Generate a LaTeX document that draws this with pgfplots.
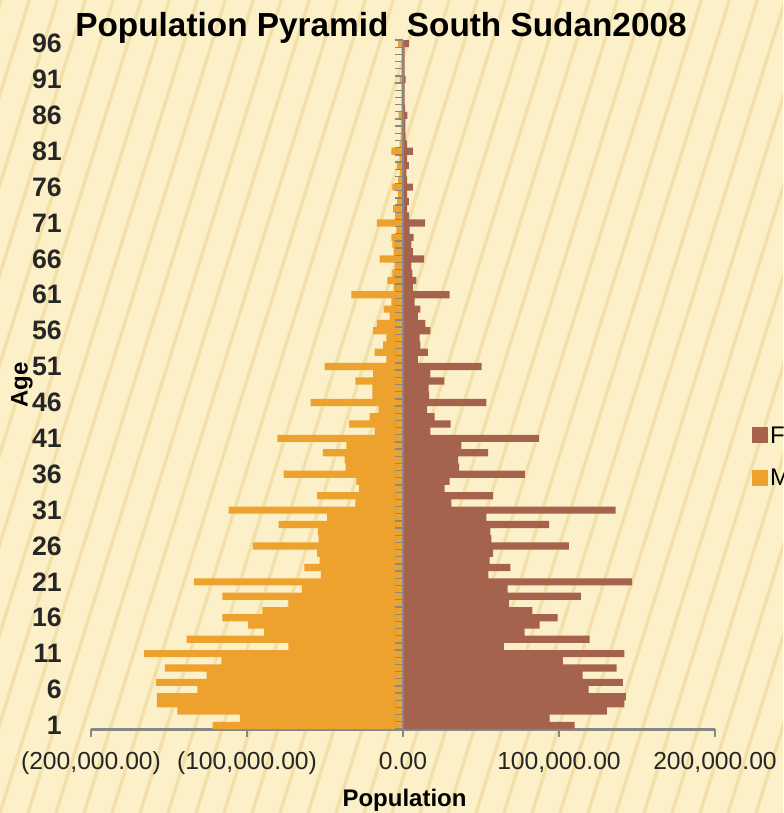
\documentclass[border=0pt]{standalone}
\usepackage{pgfplots}
\pgfplotsset{compat=1.18}
\usepackage{pgfplotstable}
\usepackage{fontspec}
\setmainfont{Liberation Sans}
\definecolor{femcol}{HTML}{A5634D}
\definecolor{malecol}{HTML}{EEA22E}
\definecolor{bgcol}{HTML}{FCF0C9}
\definecolor{stripecol}{HTML}{EDD690}
\definecolor{axgray}{HTML}{878787}

\pgfplotstableread{
age F M
1 110000 -122000
2 94000 -104600
3 130700 -144700
4 141900 -157800
5 142900 -157800
6 119000 -131800
7 141000 -158400
8 115100 -125900
9 136900 -152700
10 102500 -116500
11 141900 -166000
12 64700 -73400
13 119700 -138700
14 78000 -89000
15 87600 -99300
16 99100 -115800
17 83000 -90100
18 68100 -73400
19 114000 -115800
20 67000 -64900
21 146800 -133900
22 54800 -52700
23 68800 -63300
24 55500 -53400
25 57800 -55000
26 106400 -96300
27 56600 -54100
28 56000 -54500
29 93600 -79700
30 53400 -48700
31 136300 -111800
32 31000 -30600
33 57700 -55100
34 26700 -28200
35 29900 -29900
36 78200 -76500
37 35900 -36800
38 35300 -37400
39 54500 -51300
40 37400 -36300
41 87200 -80600
42 17500 -18200
43 30600 -34600
44 20300 -21400
45 15400 -15600
46 53400 -59200
47 16700 -19700
48 16500 -19700
49 26500 -30600
50 17500 -19200
51 50400 -50200
52 9600 -10700
53 16000 -18200
54 11100 -12800
55 10700 -10700
56 17500 -19200
57 14300 -16700
58 9600 -8500
59 11100 -12400
60 7500 -7500
61 29900 -33100
62 6400 -6000
63 8500 -10000
64 6000 -6800
65 5300 -5300
66 13500 -15000
67 6400 -6000
68 5300 -6800
69 6800 -7500
70 4300 -4300
71 14100 -16700
72 4000 -5000
73 2600 -6400
74 3800 -3800
75 2600 -3200
76 6400 -6800
77 2600 -3200
78 2100 -2100
79 3800 -3800
80 2600 -2100
81 6400 -7500
82 2600 -2100
83 1700 -1500
84 1500 -1300
85 1500 -1300
86 2800 -2800
87 1300 -1100
88 1000 -1000
89 1000 -1000
90 1000 -1000
91 1700 -2100
92 1000 -1000
93 1000 -1000
94 1000 -1000
95 1000 -1000
96 3800 -3200
}\pyr

\begin{document}
\begin{tikzpicture}
\fill[bgcol] (0pt,0pt) rectangle (587.25pt,-609.75pt);
\begin{scope}
\clip (0pt,0pt) rectangle (587.25pt,-609.75pt);
\foreach \i in {-12,...,30} {
  \draw[stripecol, line width=2.5pt, opacity=0.6] (\i*21pt,-609.75pt) -- ++(190pt,609.75pt);
}
\end{scope}
\begin{axis}[
  at={(68.25pt,-546.75pt)}, anchor=south west,
  scale only axis, width=468pt, height=516.75pt,
  xmin=-200000, xmax=200000, ymin=0.5, ymax=96.5,
  clip=false,
  scaled x ticks=false,
  axis x line*=bottom, axis y line*=left,
  y axis line style={draw=none},
  x axis line style={axgray, line width=2.25pt},
  xtick={-200000,-100000,0,100000,200000},
  xticklabels={{(200,000.00)},{(100,000.00)},{0.00},{100,000.00},{200,000.00}},
  tick align=outside,
  major tick length=6pt,
  xtick style={axgray, line width=1.5pt},
  xticklabel style={font=\fontsize{18.5}{18.5}\selectfont, text=black!85, inner sep=0pt, anchor=north, yshift=-11pt},
  ytick={1,6,...,96},
  yticklabels={1,6,11,16,21,26,31,36,41,46,51,56,61,66,71,76,81,86,91,96},
  ytick style={draw=none},
  yticklabel style={font=\bfseries\fontsize{20}{20}\selectfont, text=black!85, inner sep=0pt, anchor=east, xshift=-15.75pt},
  /pgf/number format/assume math mode=true,
  legend cell align=left,
  legend style={at={(1.059,0.3955)}, anchor=west, draw=none, fill=none,
    font=\fontsize{18}{18}\selectfont, row sep=14pt, inner sep=0pt,
    nodes={inner sep=1.5pt}},
  legend image code/.code={\fill[#1] (0pt,-6pt) rectangle (12pt,6pt);},
]
\addplot[xbar, bar shift=0pt, bar width=1, fill=femcol, draw=none] table[x=F,y=age]{\pyr};
\addlegendentry{Female}
\addplot[xbar, bar shift=0pt, bar width=1, fill=malecol, draw=none] table[x=M,y=age]{\pyr};
\addlegendentry{Male}
\draw[axgray, line width=1.5pt] (axis cs:0,0.5) -- (axis cs:0,96.5);
\pgfplotsinvokeforeach{0,...,96}{
  \draw[axgray, line width=1pt] (axis cs:0,#1.5) -- ++(-6pt,0pt);
}
\end{axis}
\node[anchor=base, font=\bfseries\fontsize{25}{25}\selectfont] at (285.75pt,-27.75pt) {Population Pyramid\ \ South Sudan2008};
\node[rotate=90, anchor=center, font=\bfseries\fontsize{18}{18}\selectfont] at (16.5pt,-288.75pt) {Age};
\node[anchor=base, font=\bfseries\fontsize{18}{18}\selectfont] at (303.4pt,-604.5pt) {Population};
\pgfresetboundingbox
\useasboundingbox (0pt,0pt) rectangle (587.25pt,-609.75pt);
\end{tikzpicture}
\end{document}
